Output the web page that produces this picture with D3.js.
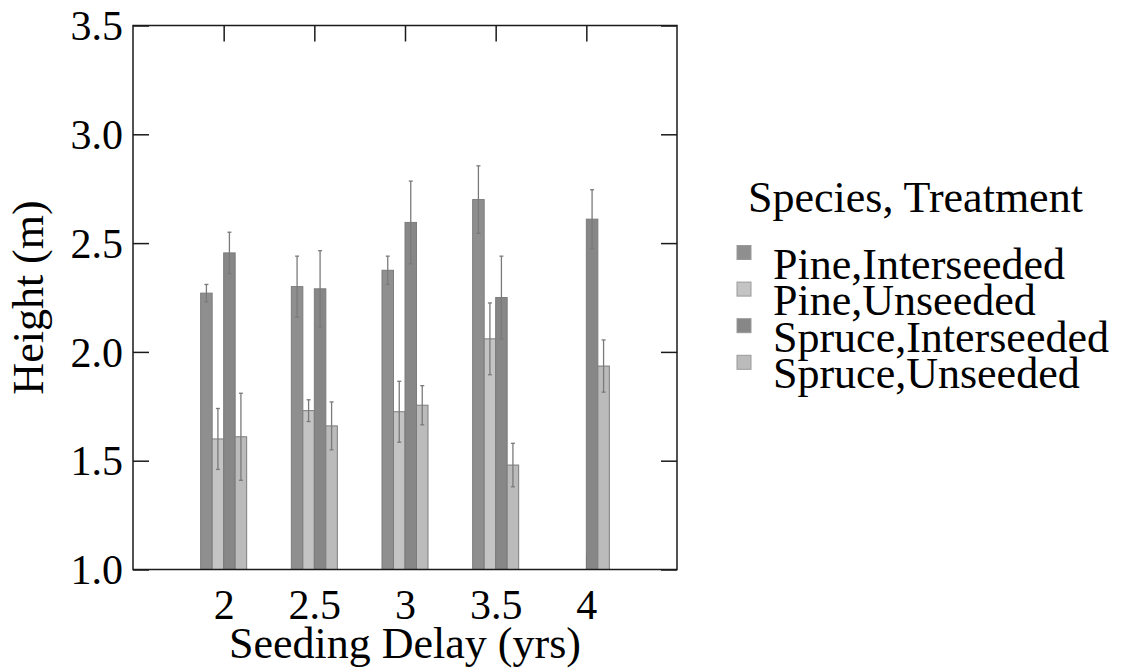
<!DOCTYPE html>
<html>
  <head>
    <meta http-equiv="Content-Type" content="text/html;charset=utf-8" />
    <title>Height by seeding delay</title>
    <script type="text/javascript" src="https://d3js.org/d3.v7.min.js"></script>
    <style>
      body { margin: 0; background: #fff; }
      svg text { font-family: "Liberation Serif", "Times New Roman", serif; fill: #000; }
    </style>
  </head>
  <body>
    <div id="chart"></div>

    <script type="text/javascript">
      // values
      var delays = [2, 2.5, 3, 3.5, 4];
      var delayLabels = ["2", "2.5", "3", "3.5", "4"];
      var seriesNames = ["Pine,Interseeded", "Pine,Unseeded", "Spruce,Interseeded", "Spruce,Unseeded"];
      var pineInter = [2.27, 2.30, 2.375, 2.70, null];
      var pineInterErr = [0.04, 0.14, 0.065, 0.155, null];
      var pineUn = [1.60, 1.73, 1.725, 2.06, null];
      var pineUnErr = [0.14, 0.05, 0.14, 0.165, null];
      var spruceInter = [2.455, 2.29, 2.595, 2.25, 2.61];
      var spruceInterErr = [0.095, 0.175, 0.19, 0.19, 0.135];
      var spruceUn = [1.61, 1.66, 1.755, 1.48, 1.935];
      var spruceUnErr = [0.20, 0.11, 0.09, 0.10, 0.12];
      var yTicks = [1.0, 1.5, 2.0, 2.5, 3.0, 3.5];

      var seriesValues = [pineInter, pineUn, spruceInter, spruceUn];
      var seriesErrors = [pineInterErr, pineUnErr, spruceInterErr, spruceUnErr];
      var fills = ["#8f8f8f", "#c4c4c4", "#878787", "#bbbbbb"];

      var width = 1126, height = 670;
      var margin = { left: 133, right: 449, top: 25.5, bottom: 100.5 };

      var svg = d3.select("#chart").append("svg")
        .attr("width", width)
        .attr("height", height);

      var x = d3.scaleLinear().domain([1.5, 4.5]).range([margin.left, width - margin.right]);
      var y = d3.scaleLinear().domain([1, 3.5]).range([height - margin.bottom, margin.top]);
      var inner = d3.scaleBand().domain(seriesNames).range([-23, 23]);

      var bars = [];
      seriesValues.forEach(function(vals, j) {
        vals.forEach(function(v, i) {
          if (v == null) return;
          bars.push({ delay: delays[i], series: seriesNames[j], value: v, err: seriesErrors[j][i], fill: fills[j] });
        });
      });

      // axes with inward ticks
      var gB = svg.append("g")
        .attr("transform", "translate(0," + y(1) + ")")
        .call(d3.axisBottom(x).tickValues(delays).tickSize(-16).tickFormat(function(d, i) { return delayLabels[i]; }));
      gB.selectAll("text").attr("y", 49).attr("dy", 0).style("font-size", "42px");

      var g = svg.append("g");
      g.selectAll("rect.bar")
        .data(bars)
        .enter().append("rect")
        .attr("class", "bar")
        .attr("x", d => x(d.delay) + inner(d.series))
        .attr("width", inner.bandwidth())
        .attr("y", d => y(d.value))
        .attr("height", d => y(1) - y(d.value))
        .attr("fill", d => d.fill)
        .attr("stroke", "#7c7c7c")
        .attr("stroke-width", 1);

      var cap = 2;
      var eb = g.selectAll("g.err").data(bars).enter().append("g").attr("class", "err")
        .attr("stroke", "#7a7a7a").attr("stroke-width", 1.3);
      eb.append("line")
        .attr("x1", d => x(d.delay) + inner(d.series) + inner.bandwidth() / 2)
        .attr("x2", d => x(d.delay) + inner(d.series) + inner.bandwidth() / 2)
        .attr("y1", d => y(d.value + d.err))
        .attr("y2", d => y(d.value - d.err));
      eb.append("line")
        .attr("x1", d => x(d.delay) + inner(d.series) + inner.bandwidth() / 2 - cap)
        .attr("x2", d => x(d.delay) + inner(d.series) + inner.bandwidth() / 2 + cap)
        .attr("y1", d => y(d.value + d.err))
        .attr("y2", d => y(d.value + d.err));
      eb.append("line")
        .attr("x1", d => x(d.delay) + inner(d.series) + inner.bandwidth() / 2 - cap)
        .attr("x2", d => x(d.delay) + inner(d.series) + inner.bandwidth() / 2 + cap)
        .attr("y1", d => y(d.value - d.err))
        .attr("y2", d => y(d.value - d.err));

      var gL = svg.append("g")
        .attr("transform", "translate(" + x(1.5) + ",0)")
        .call(d3.axisLeft(y).tickValues(yTicks).tickSize(-16).tickPadding(10).tickFormat(d3.format(".1f")));
      gL.selectAll("text").style("font-size", "42px").attr("dy", "0.34em");

      svg.append("g")
        .attr("transform", "translate(" + x(4.5) + ",0)")
        .call(d3.axisRight(y).tickValues(yTicks).tickSize(-16).tickFormat(""));

      svg.append("g")
        .attr("transform", "translate(0," + y(3.5) + ")")
        .call(d3.axisTop(x).tickValues(delays).tickSize(-16).tickFormat(""));

      svg.selectAll(".domain").attr("stroke", "none");
      svg.selectAll(".tick line").attr("stroke", "#1a1a1a").attr("stroke-width", 1.5);

      // frame
      svg.append("rect")
        .attr("x", x(1.5)).attr("y", y(3.5))
        .attr("width", x(4.5) - x(1.5)).attr("height", y(1) - y(3.5))
        .attr("fill", "none").attr("stroke", "#1a1a1a").attr("stroke-width", 1.5);

      // axis titles
      svg.append("text")
        .attr("x", (x(1.5) + x(4.5)) / 2)
        .attr("y", 658)
        .attr("text-anchor", "middle")
        .style("font-size", "44px")
        .text("Seeding Delay (yrs)");

      svg.append("text")
        .attr("transform", "translate(43," + (y(1) + y(3.5)) / 2 + ") rotate(-90)")
        .attr("text-anchor", "middle")
        .style("font-size", "44px")
        .text("Height (m)");

      // legend
      var legend = svg.append("g").attr("transform", "translate(737,0)");
      legend.append("text")
        .attr("x", 11).attr("y", 212)
        .style("font-size", "44px")
        .text("Species, Treatment");
      var item = legend.selectAll("g.item").data(seriesNames).enter().append("g")
        .attr("class", "item")
        .attr("transform", (d, i) => "translate(0," + (278.5 + i * 36.6) + ")");
      item.append("rect")
        .attr("x", 0).attr("y", -33).attr("width", 14).attr("height", 14)
        .attr("fill", (d, i) => fills[i])
        .attr("stroke", "#9a9a9a").attr("stroke-width", 1);
      item.append("text")
        .attr("x", 36).attr("y", 0)
        .style("font-size", "44px")
        .text(d => d);
    </script>
  </body>
</html>
